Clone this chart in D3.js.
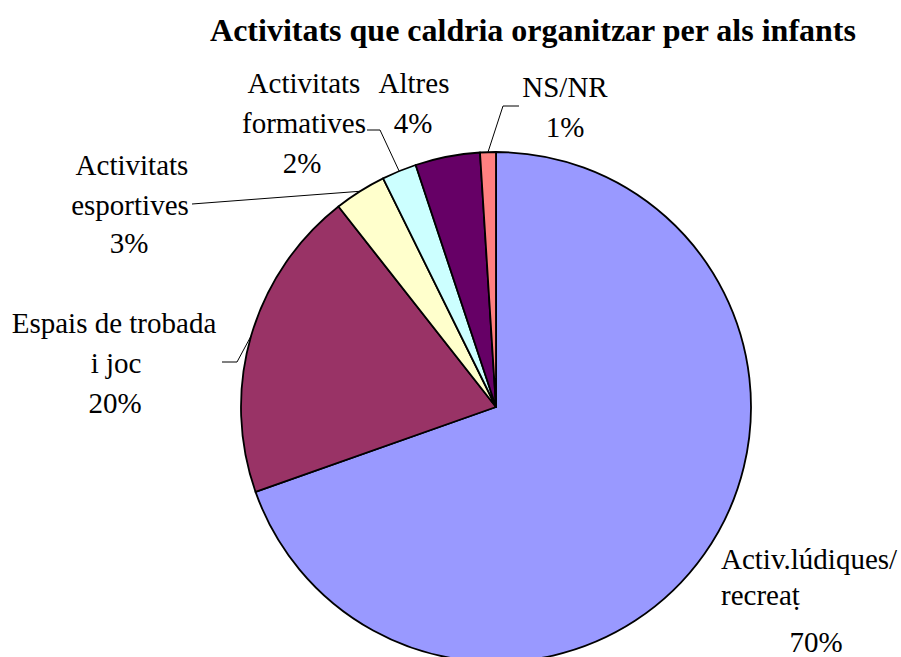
<!DOCTYPE html>
<html>
<head>
<meta charset="utf-8">
<script src="https://cdn.jsdelivr.net/npm/d3@7"></script>
<style>
  body { margin: 0; background: #fff; }
  svg { display: block; }
</style>
</head>
<body>
<div id="container"></div>
<script>
// data
var categories = ["Activ.lúdiques/ recreaṭ", "Espais de trobada i joc", "Activitats esportives",
    "Activitats formatives", "Altres", "NS/NR"];
var values = [69.6, 19.8, 3.3, 2.2, 4.1, 1.0];
var colors = ["#9999FF", "#993366", "#FFFFCC", "#CCFFFF", "#660066", "#FF8080"];

var width = 901;
var height = 657;
var cx = 496, cy = 407, radius = 255;
var serif = "'Liberation Serif', 'Times New Roman', serif";

// label layout: lines, anchor point per line, leader line points (from label to slice)
var labelLayout = [
    { lines: [["Activ.lúdiques/", 721, 569, "start"], ["recreaṭ", 721, 605, "start"], ["%", 816, 652, "middle"]], leader: null },
    { lines: [["Espais de trobada", 114, 333, "middle"], ["i joc", 116, 373, "middle"], ["%", 115, 413, "middle"]], leader: [[222, 362], [237, 362]] },
    { lines: [["Activitats", 132, 175, "middle"], ["esportives", 130, 215, "middle"], ["%", 129, 253, "middle"]], leader: [[192, 204]] },
    { lines: [["Activitats", 304, 93, "middle"], ["formatives", 304, 133, "middle"], ["%", 302, 173, "middle"]], leader: [[367, 130], [380, 130]] },
    { lines: [["Altres", 414, 93, "middle"], ["%", 413, 133, "middle"]], leader: null },
    { lines: [["NS/NR", 565, 97, "middle"], ["%", 565, 137, "middle"]], leader: [[519, 106], [503, 106]] }
];

var svg = d3.select("#container")
    .append("svg")
    .attr("width", width)
    .attr("height", height);

svg.append("text")
    .attr("x", 533)
    .attr("y", 41)
    .attr("text-anchor", "middle")
    .attr("font-family", serif)
    .attr("font-weight", "bold")
    .attr("font-size", "32px")
    .text("Activitats que caldria organitzar per als infants");

var pie = d3.pie().sort(null).value(function (d) { return d; });
var arcs = pie(values);
var arc = d3.arc().innerRadius(0).outerRadius(radius);

var chart = svg.append("g")
    .attr("transform", "translate(" + cx + "," + cy + ")");

chart.selectAll("path")
    .data(arcs)
    .enter()
    .append("path")
    .attr("d", arc)
    .attr("fill", function (d, i) { return colors[i]; })
    .attr("stroke", "#000")
    .attr("stroke-width", 1.8)
    .attr("stroke-linejoin", "round");

// leader lines
arcs.forEach(function (d, i) {
    var lay = labelLayout[i];
    if (!lay.leader) return;
    var mid = (d.startAngle + d.endAngle) / 2;
    var end = [cx + Math.sin(mid) * radius, cy - Math.cos(mid) * radius];
    var pts = lay.leader.concat([end]);
    svg.append("path")
        .attr("d", d3.line()(pts))
        .attr("fill", "none")
        .attr("stroke", "#000")
        .attr("stroke-width", 1);
});

// labels
arcs.forEach(function (d, i) {
    var pct = Math.round(values[i]) + "%";
    labelLayout[i].lines.forEach(function (l) {
        svg.append("text")
            .attr("x", l[1])
            .attr("y", l[2])
            .attr("text-anchor", l[3])
            .attr("font-family", serif)
            .attr("font-size", "29px")
            .attr("fill", "#000")
            .text(l[0] == "%" ? pct : l[0]);
    });
});
</script>
</body>
</html>
